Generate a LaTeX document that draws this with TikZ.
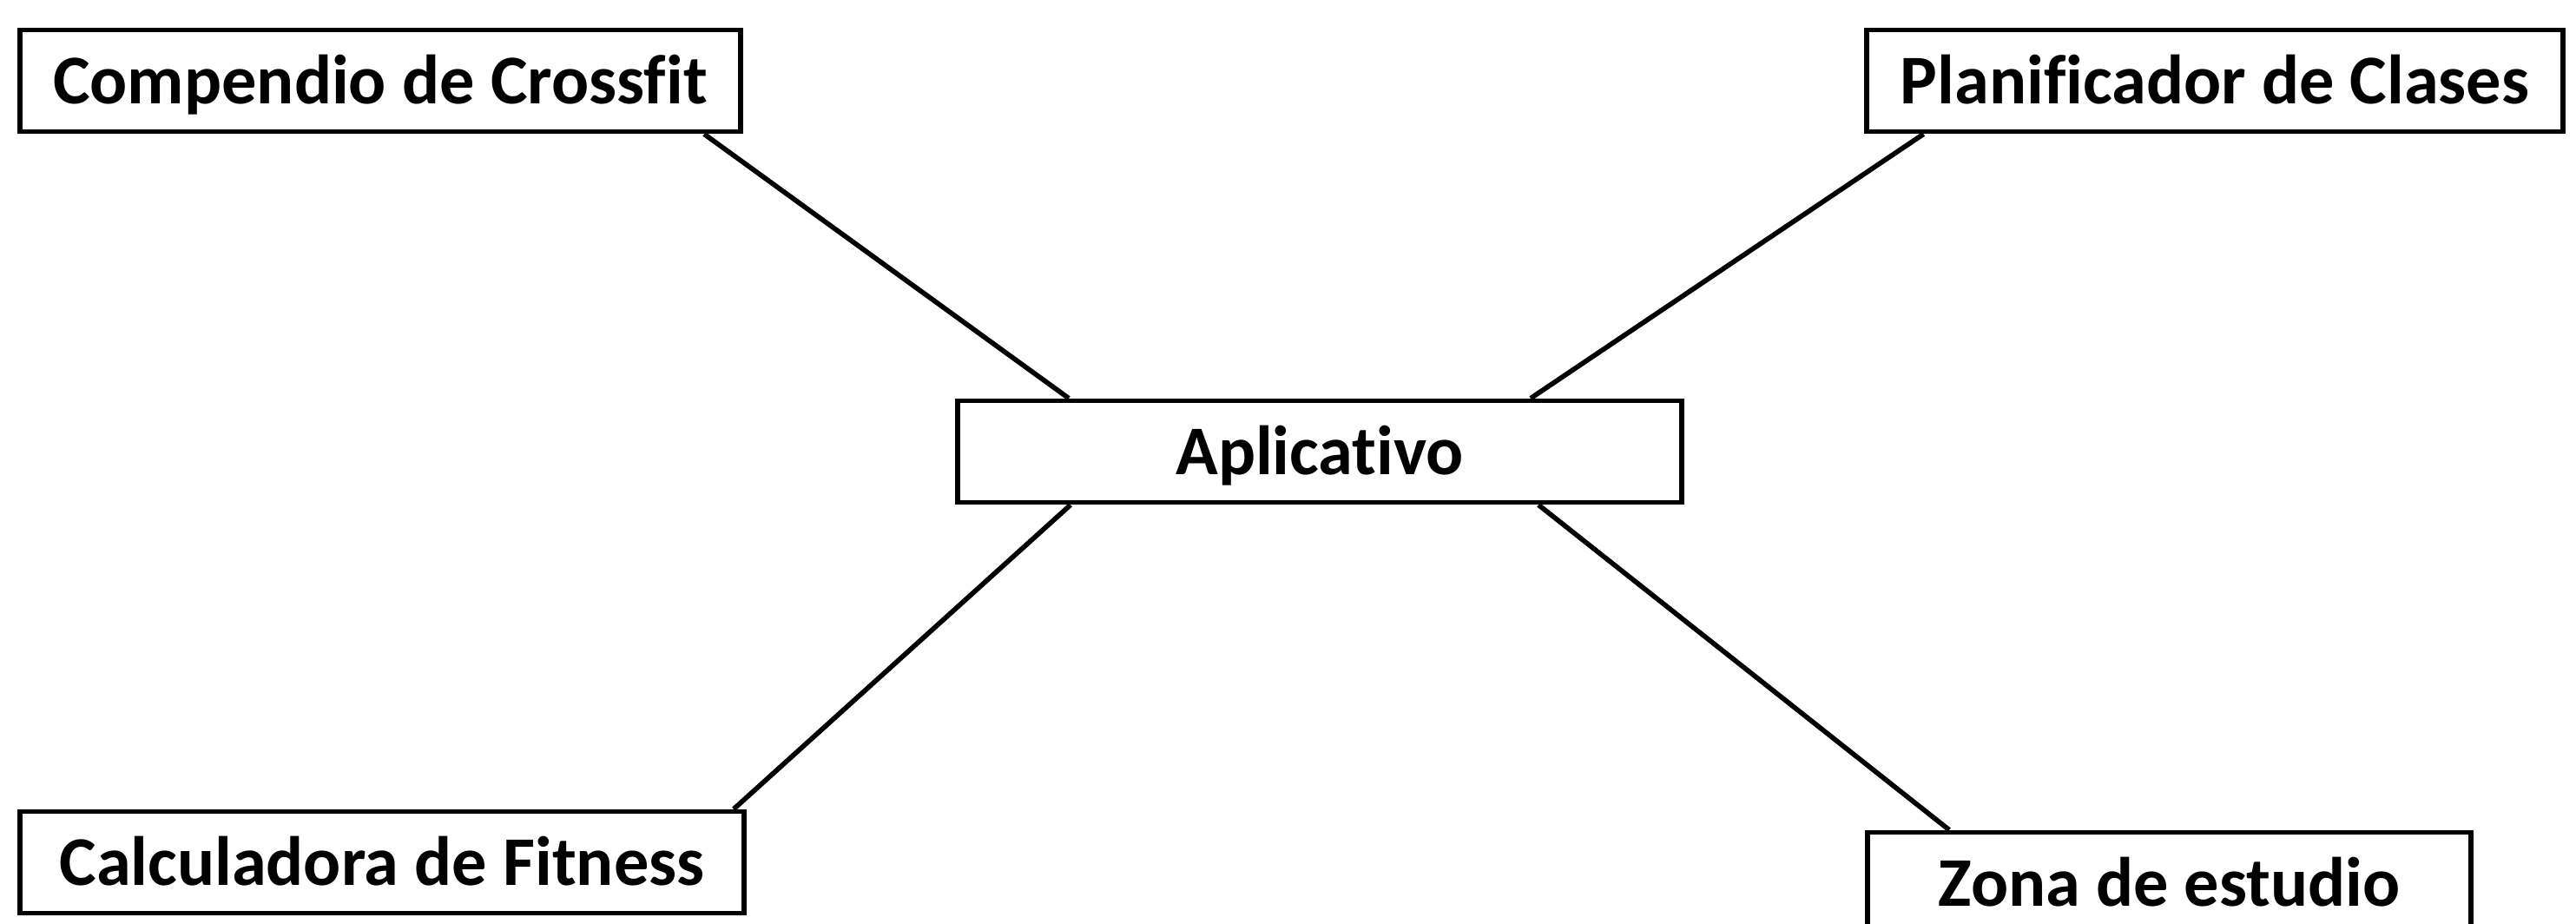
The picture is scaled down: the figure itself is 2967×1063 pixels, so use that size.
\documentclass[tikz,border=0pt]{standalone}
\usepackage{fontspec}
\setmainfont[Ligatures=NoCommon]{Carlito}
\begin{document}
\begin{tikzpicture}[x=0.01cm,y=-0.01cm,
  box/.style={draw, line width=1.6pt, inner sep=0pt, minimum height=1.17cm,
    text height=0.6cm, text depth=0.07cm,
    font=\fontsize{22.85}{27}\selectfont\bfseries, fill=white},
  link/.style={line width=1.6pt}]
\useasboundingbox (0,0) rectangle (2967,1063);
\node[box, minimum width=8.30cm] (comp) at (438,93) {Compendio de Crossfit};
\node[box, minimum width=8.01cm] (plan) at (2551,93) {Planificador de Clases};
\node[box, minimum width=8.34cm] (app) at (1520,520) {Aplicativo};
\node[box, minimum width=8.34cm] (calc) at (440,993) {Calculadora de Fitness};
\node[box, minimum width=6.95cm] (zona) at (2498.5,1017) {Zona de estudio};
\draw[link] ([xshift=-0.45cm]comp.south east) -- ([xshift=1.31cm]app.north west);
\draw[link] ([xshift=0.68cm]plan.south west) -- ([xshift=-1.77cm]app.north east);
\draw[link] ([xshift=1.33cm]app.south west) -- ([xshift=-0.15cm]calc.north east);
\draw[link] ([xshift=-1.68cm]app.south east) -- ([xshift=0.97cm]zona.north west);
\end{tikzpicture}
\end{document}
